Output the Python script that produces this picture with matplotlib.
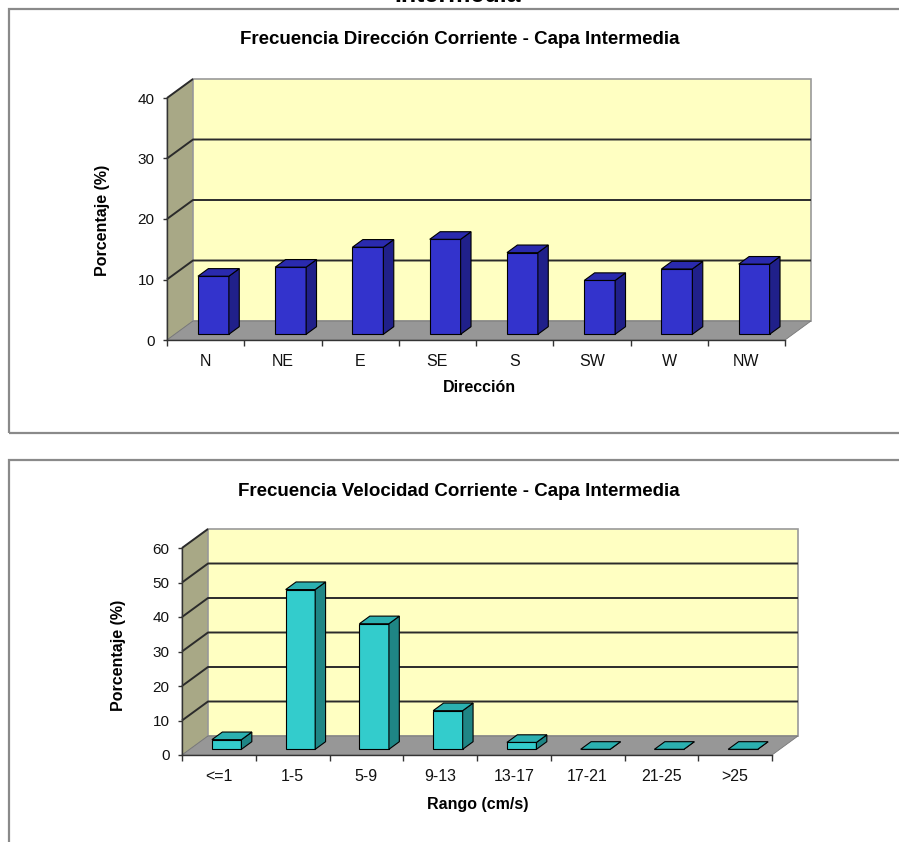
import matplotlib
matplotlib.use("Agg")
import matplotlib.pyplot as plt
from matplotlib.patches import Polygon, Rectangle
from matplotlib.ticker import FixedLocator, NullFormatter, FixedFormatter

plt.rcParams['font.family'] = ['Liberation Sans', 'DejaVu Sans']

# ---- data ----
direcciones = ["N", "NE", "E", "SE", "S", "SW", "W", "NW"]
frec_direccion = [9.6, 11.1, 14.4, 15.7, 13.5, 8.9, 10.8, 11.6]

rangos = ["<=1", "1-5", "5-9", "9-13", "13-17", "17-21", "21-25", ">25"]
frec_velocidad = [2.8, 46.3, 36.4, 11.2, 2.0, 0.0, 0.0, 0.0]

W, H = 899, 842
fig = plt.figure(figsize=(W / 100, H / 100), dpi=100)


def fx(px):
    return px / W


def fy(py):
    return 1 - py / H


def add_front_axes(left, right, y_zero, y_top):
    return fig.add_axes([fx(left), fy(y_zero), (right - left) / W, (y_zero - y_top) / H])


def bar_chart_3d(ax, cats, vals, ymax, ystep, depth_px, colors):
    n = len(cats)
    ax.set_xlim(0, n)
    ax.set_ylim(0, ymax)
    ax.set_facecolor('none')

    # convert the 3-D depth offset from pixels to data units
    bbox = ax.get_position()
    sx = bbox.width * W / n
    sy = bbox.height * H / ymax
    ddx = depth_px[0] / sx
    ddy = depth_px[1] / sy

    wall_side = '#A8A886'
    wall_back = '#FFFFC2'
    floor = '#979797'
    grid = '#2b2b2b'

    # walls and floor
    ax.add_patch(Polygon([(0, 0), (ddx, ddy), (ddx, ymax + ddy), (0, ymax)],
                         closed=True, facecolor=wall_side, edgecolor='#808080',
                         lw=0.6, clip_on=False, zorder=1))
    ax.add_patch(Rectangle((ddx, ddy), n, ymax, facecolor=wall_back,
                           edgecolor='#9a9a9a', lw=1.2, clip_on=False, zorder=1))
    ax.add_patch(Polygon([(0, 0), (n, 0), (n + ddx, ddy), (ddx, ddy)],
                         closed=True, facecolor=floor, edgecolor='#777777',
                         lw=0.6, clip_on=False, zorder=2))

    # gridlines along the side and back walls
    ticks = list(range(0, ymax + 1, ystep))
    for v in ticks[1:]:
        xs = [0, ddx, n + ddx] if v < ymax else [0, ddx]
        ys = [v, v + ddy, v + ddy] if v < ymax else [v, v + ddy]
        ax.plot(xs, ys, color=grid, lw=1.4, clip_on=False, zorder=2,
                solid_capstyle='butt')

    # bars
    bw = 0.4
    f0, f1 = 0.3, 0.7
    face, side, top = colors
    for i, v in enumerate(vals):
        x0 = i + (1 - bw) / 2 + f0 * ddx
        y0 = f0 * ddy
        x1 = x0 + bw
        bx = (f1 - f0) * ddx
        by = (f1 - f0) * ddy
        ax.add_patch(Rectangle((x0, y0), bw, v, facecolor=face, edgecolor='black',
                               lw=0.8, clip_on=False, zorder=4))
        ax.add_patch(Polygon([(x1, y0), (x1 + bx, y0 + by), (x1 + bx, y0 + by + v), (x1, y0 + v)],
                             closed=True, facecolor=side, edgecolor='black',
                             lw=0.8, clip_on=False, zorder=4))
        ax.add_patch(Polygon([(x0, y0 + v), (x1, y0 + v), (x1 + bx, y0 + by + v), (x0 + bx, y0 + by + v)],
                             closed=True, facecolor=top, edgecolor='black',
                             lw=0.8, clip_on=False, zorder=4))

    # axes: front left edge and front floor edge
    for s in ['top', 'right']:
        ax.spines[s].set_visible(False)
    for s in ['left', 'bottom']:
        ax.spines[s].set_color('#333333')
        ax.spines[s].set_linewidth(1.0)
        ax.spines[s].set_zorder(5)
    ax.set_yticks(ticks)
    ax.set_yticklabels([str(t) for t in ticks])
    ax.tick_params(axis='y', direction='out', length=3, width=1.0, color='#333333',
                   pad=6, labelsize=11, labelcolor='#111111')
    ax.xaxis.set_major_locator(FixedLocator(list(range(n + 1))))
    ax.xaxis.set_major_formatter(NullFormatter())
    ax.xaxis.set_minor_locator(FixedLocator([i + 0.5 for i in range(n)]))
    ax.xaxis.set_minor_formatter(FixedFormatter(cats))
    ax.tick_params(axis='x', which='major', direction='out', length=4, width=1.0,
                   color='#333333')
    ax.tick_params(axis='x', which='minor', length=0, pad=10, labelsize=11.5,
                   labelcolor='#111111')


# panel frames
fig.patches.append(Rectangle((fx(9), fy(433)), fx(900), (433 - 9) / H,
                             transform=fig.transFigure, fill=False,
                             edgecolor='#8a8a8a', lw=1.6))
fig.patches.append(Rectangle((fx(9), fy(850)), fx(900), (850 - 460) / H,
                             transform=fig.transFigure, fill=False,
                             edgecolor='#8a8a8a', lw=1.6))

# heading running off the top edge
fig.text(fx(458), fy(2.5), "Intermedia", ha='center', va='baseline',
         fontsize=18, fontweight='bold')

# ---- direction chart ----
ax1 = add_front_axes(167, 785, 340, 98)
bar_chart_3d(ax1, direcciones, frec_direccion, 40, 10, (26, 19),
             ('#3333CC', '#20208A', '#2A2AAE'))
fig.text(fx(460), fy(40), "Frecuencia Dirección Corriente - Capa Intermedia",
         ha='center', va='center', fontsize=13.5, fontweight='bold')
fig.text(fx(479), fy(388), "Dirección", ha='center', va='center',
         fontsize=11.5, fontweight='bold')
fig.text(fx(103), fy(220), "Porcentaje (%)", ha='center', va='center',
         rotation=90, fontsize=11.5, fontweight='bold')

# ---- speed chart ----
ax2 = add_front_axes(182, 772, 755, 548)
bar_chart_3d(ax2, rangos, frec_velocidad, 60, 10, (26, 19),
             ('#33CCCC', '#1F8585', '#2BB0B0'))
fig.text(fx(459), fy(491), "Frecuencia Velocidad Corriente - Capa Intermedia",
         ha='center', va='center', fontsize=13.5, fontweight='bold')
fig.text(fx(478), fy(804), "Rango (cm/s)", ha='center', va='center',
         fontsize=11.5, fontweight='bold')
fig.text(fx(118), fy(655), "Porcentaje (%)", ha='center', va='center',
         rotation=90, fontsize=11.5, fontweight='bold')

fig.savefig("out.png", dpi=100)
